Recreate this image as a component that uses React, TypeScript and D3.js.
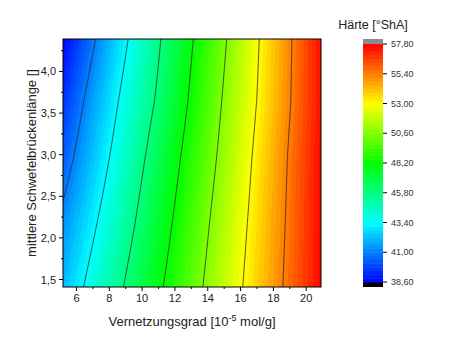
import React from 'react';
import * as d3 from 'd3';

// coarse grid (Härte at Vernetzungsgrad x Brückenlänge)
const gridX = [5, 7, 9, 11, 13, 15, 17, 19, 21];
const gridY = [1.4, 2.15, 2.95, 3.65, 4.4];
const rowY140 = [42.0, 43.97, 45.95, 47.92, 49.91, 51.89, 53.86, 55.82, 57.79];
const rowY215 = [41.21, 43.17, 45.22, 47.34, 49.46, 51.55, 53.62, 55.7, 57.79];
const rowY295 = [40.11, 42.3, 44.5, 46.72, 48.94, 51.11, 53.35, 55.57, 57.78];
const rowY365 = [39.32, 41.62, 43.9, 46.06, 48.45, 50.77, 53.02, 55.33, 57.64];
const rowY440 = [38.38, 40.79, 43.21, 45.62, 48.05, 50.41, 52.83, 55.25, 57.68];
const hardness = [rowY140, rowY215, rowY295, rowY365, rowY440];

const lineLevels = [41.0, 43.4, 45.8, 48.2, 50.6, 53.0, 55.4];
const barTicks = [38.6, 41.0, 43.4, 45.8, 48.2, 50.6, 53.0, 55.4, 57.8];
const xTicks = [6, 8, 10, 12, 14, 16, 18, 20];
const xMinor = [7, 9, 11, 13, 15, 17, 19];
const yTicks = [1.5, 2.0, 2.5, 3.0, 3.5, 4.0];
const yMinor = [1.75, 2.25, 2.75, 3.25, 3.75, 4.25];

const W = 454, H = 347;
const plot = { left: 63, right: 321, top: 39, bottom: 287 };
const bar = { left: 363, right: 383, top: 39, bottom: 287, lo: 282, hi: 44 };
const font = "Arial, 'Liberation Sans', sans-serif";

const xScale = d3.scaleLinear().domain([5.18, 20.9]).range([plot.left, plot.right]);
const yScale = d3.scaleLinear().domain([1.41, 4.39]).range([plot.bottom, plot.top]);
const color = d3.scaleLinear<string>()
  .domain([38.6, 43.4, 48.2, 53.0, 57.8])
  .range(['#0000ff', '#00ffff', '#00ff00', '#ffff00', '#ff0000'])
  .clamp(true);
const barScale = d3.scaleLinear().domain([38.6, 57.8]).range([bar.lo, bar.hi]);

const step = 0.3;
const bandLevels = d3.range(0, 64).map(i => 38.6 + i * step);

function seg(arr: number[], v: number) {
  let i = d3.bisectRight(arr, v) - 1;
  i = Math.max(0, Math.min(arr.length - 2, i));
  const t = Math.max(0, Math.min(1, (v - arr[i]) / (arr[i + 1] - arr[i])));
  return [i, t];
}

function valueAt(x: number, y: number) {
  const [i, tx] = seg(gridX, x);
  const [j, ty] = seg(gridY, y);
  const a = hardness[j][i] * (1 - tx) + hardness[j][i + 1] * tx;
  const b = hardness[j + 1][i] * (1 - tx) + hardness[j + 1][i + 1] * tx;
  return a * (1 - ty) + b * ty;
}

const nx = 180, ny = 170;
const [x0, x1] = xScale.domain();
const [y0, y1] = yScale.domain();
const dx = (x1 - x0) / (nx - 5), dy = (y1 - y0) / (ny - 5);
const values: number[] = [];
for (let j = 0; j < ny; j++) {
  for (let i = 0; i < nx; i++) {
    values.push(valueAt(x0 + (i - 2) * dx, y0 + (j - 2) * dy));
  }
}

const proj = d3.geoTransform({
  point(px: number, py: number) {
    this.stream.point(xScale(x0 + (px - 2.5) * dx), yScale(y0 + (py - 2.5) * dy));
  }
});
const path = d3.geoPath(proj);
const contours = d3.contours().size([nx, ny]);
const bands = contours.thresholds([30, ...bandLevels])(values);
const lines = contours.thresholds(lineLevels)(values);

const fmt = (v: number, d: number) => v.toFixed(d).replace('.', ',');

export default function App() {
  return (
    <svg width={W} height={H} style={{ position: 'absolute', left: 0, top: 0, background: '#fff' }} fontFamily={font}>
      <defs>
        <clipPath id="plotClip">
          <rect x={plot.left} y={plot.top} width={plot.right - plot.left} height={plot.bottom - plot.top} />
        </clipPath>
      </defs>
      <g clipPath="url(#plotClip)">
        {bands.map((b, k) => (
          <path key={k} d={path(b as any) || ''}
            fill={color(b.value < 38.6 ? 38.6 : b.value + step / 2)} stroke="none" />
        ))}
        {lines.map((l, k) => (
          <path key={k} d={path(l as any) || ''} fill="none" stroke="#2a2a2a" strokeWidth={0.8} />
        ))}
      </g>
      <rect x={plot.left} y={plot.top} width={plot.right - plot.left} height={plot.bottom - plot.top}
        fill="none" stroke="#000" strokeWidth={1} />

      {/* x axis */}
      {xTicks.map(t => (
        <g key={t}>
          <line x1={xScale(t)} x2={xScale(t)} y1={plot.bottom} y2={plot.bottom + 4} stroke="#000" />
          <text x={xScale(t)} y={plot.bottom + 15} textAnchor="middle" fontSize={11} fill="#222">{t}</text>
        </g>
      ))}
      {xMinor.map(t => (
        <line key={t} x1={xScale(t)} x2={xScale(t)} y1={plot.bottom} y2={plot.bottom + 2} stroke="#000" />
      ))}
      <text x={192} y={326} textAnchor="middle" fontSize={13} fill="#222">
        Vernetzungsgrad [10<tspan dy={-5} fontSize={9}>-5</tspan><tspan dy={5}> mol/g]</tspan>
      </text>

      {/* y axis */}
      {yTicks.map(t => (
        <g key={t}>
          <line x1={plot.left - 4} x2={plot.left} y1={yScale(t)} y2={yScale(t)} stroke="#000" />
          <text x={plot.left - 7} y={yScale(t) + 4} textAnchor="end" fontSize={11} fill="#222">{fmt(t, 1)}</text>
        </g>
      ))}
      {yMinor.map(t => (
        <line key={t} x1={plot.left - 2} x2={plot.left} y1={yScale(t)} y2={yScale(t)} stroke="#000" />
      ))}
      <text transform={`translate(36,${(plot.top + plot.bottom) / 2}) rotate(-90)`} textAnchor="middle"
        fontSize={13} fill="#222">mittlere Schwefelbrückenlänge []</text>

      {/* color bar */}
      <text x={373} y={29} textAnchor="middle" fontSize={12.5} fill="#222">Härte [°ShA]</text>
      <rect x={bar.left} y={bar.top} width={bar.right - bar.left} height={bar.hi - bar.top} fill="#8c8c8c" />
      <rect x={bar.left} y={bar.lo} width={bar.right - bar.left} height={bar.bottom - bar.lo} fill="#000" />
      {bandLevels.map((v, k) => (
        <rect key={k} x={bar.left} y={barScale(v + step)} width={bar.right - bar.left}
          height={barScale(v) - barScale(v + step) + 0.5} fill={color(v + step / 2)} />
      ))}
      {barTicks.map(t => (
        <g key={t}>
          <line x1={bar.right} x2={bar.right + 4} y1={barScale(t)} y2={barScale(t)} stroke="#000" />
          <text x={bar.right + 8} y={barScale(t) + 3} fontSize={9} fill="#333">{fmt(t, 2)}</text>
        </g>
      ))}
    </svg>
  );
}
